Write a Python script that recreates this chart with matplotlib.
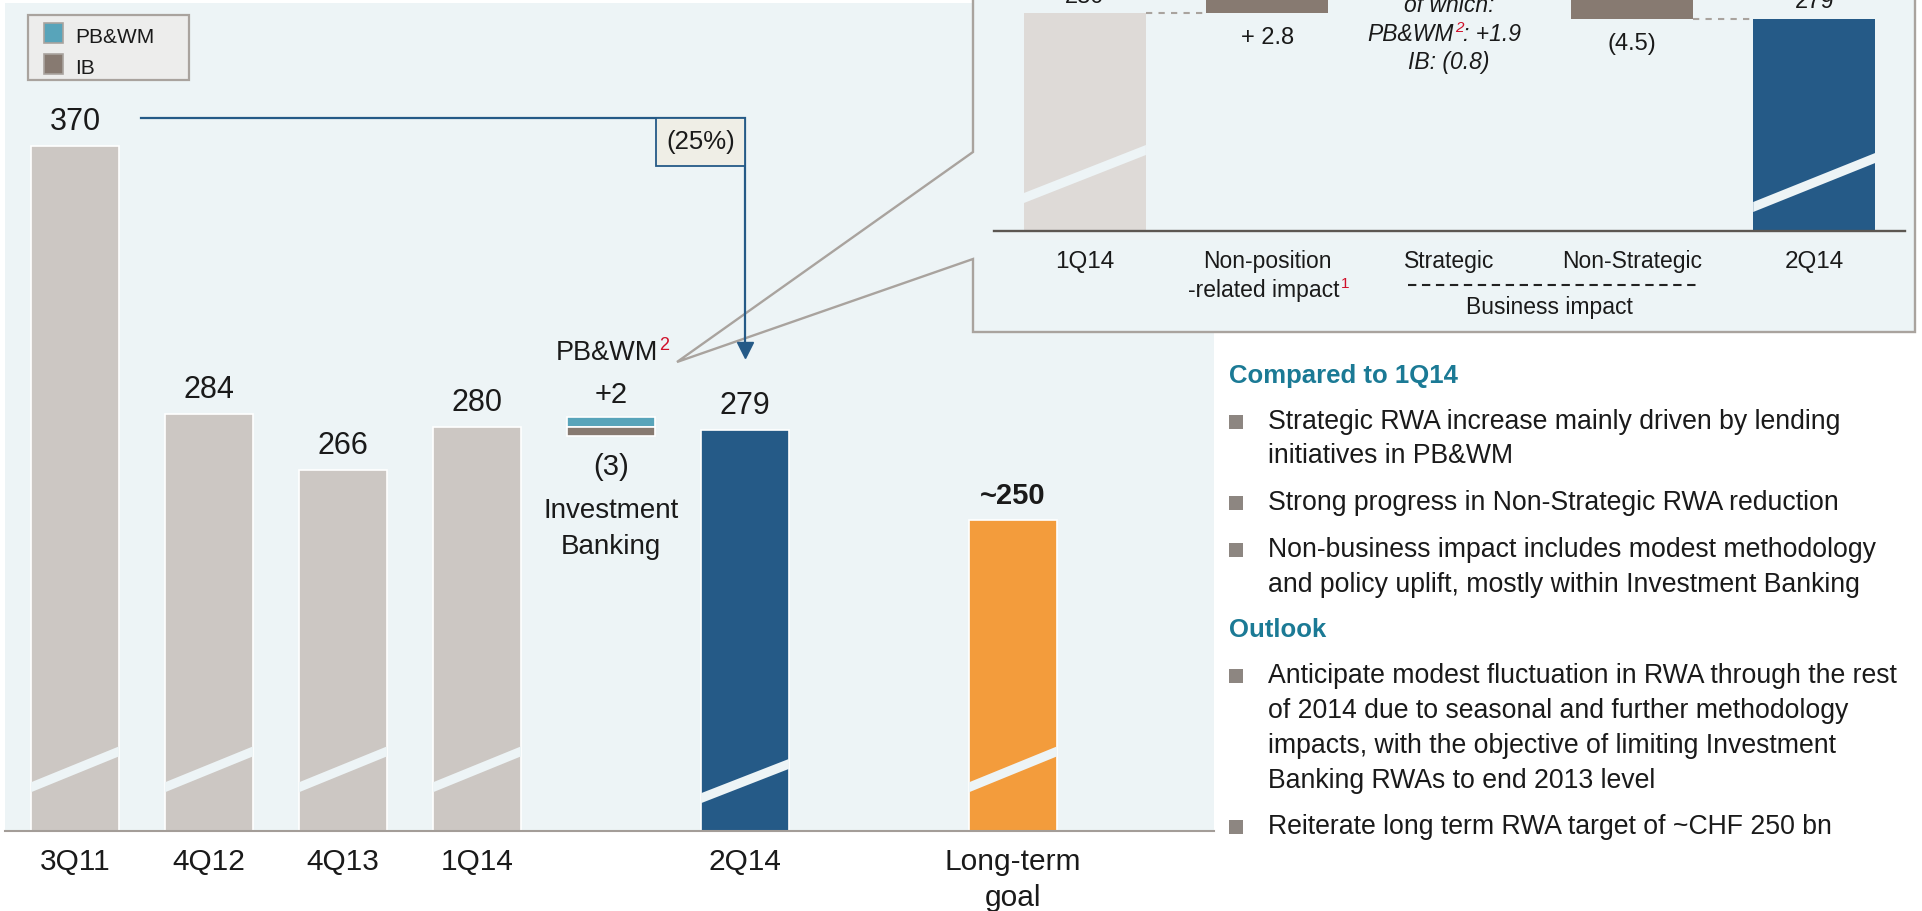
import numpy as np
import matplotlib.pyplot as plt
from matplotlib.patches import Rectangle, Polygon
from matplotlib.lines import Line2D
from matplotlib.transforms import Affine2D

plt.rcParams['font.family'] = ['Liberation Sans', 'DejaVu Sans']

W, H = 1922, 911

# RWA in CHF bn
hist_labels = ['3Q11', '4Q12', '4Q13', '1Q14']
hist_values = [370, 284, 266, 280]
pbwm_change = '+2'
ib_change = '(3)'
q214_label = '2Q14'
q214_value = 279
goal_label = ['Long-term', 'goal']
goal_value = 250
goal_text = '~250'
drop_text = '(25%)'

# inset bridge 1Q14 -> 2Q14
inset_labels = ['1Q14', 'Non-position', 'Strategic', 'Non-Strategic', '2Q14']
inset_start = 280
inset_steps = [2.8, 1.1, -4.5]
inset_step_text = ['+ 2.8', None, '(4.5)']
strategic_pbwm = '+1.9'
strategic_ib = '(0.8)'
inset_end_text = '279'

heading_1 = 'Compared to 1Q14'
bullets_1 = [['Strategic RWA increase mainly driven by lending', 'initiatives in PB&WM'],
             ['Strong progress in Non-Strategic RWA reduction'],
             ['Non-business impact includes modest methodology',
              'and policy uplift, mostly within Investment Banking']]
heading_2 = 'Outlook'
bullets_2 = [['Anticipate modest fluctuation in RWA through the rest',
              'of 2014 due to seasonal and further methodology',
              'impacts, with the objective of limiting Investment',
              'Banking RWAs to end 2013 level'],
             ['Reiterate long term RWA target of ~CHF 250 bn']]

BG = '#EDF4F6'
GREY = '#CCC7C3'
LIGHT = '#DEDAD7'
BROWN = '#877A71'
TEAL = '#58A4BA'
BLUE = '#255A87'
ORANGE = '#F39C3C'
BORDER = '#A9A39E'
HEAD = '#1B7A95'
TXT = '#1A1A1A'
RED = '#D0102A'

fig = plt.figure(figsize=(W / 100, H / 100), dpi=100)
# pixel coords, origin top-left
px = Affine2D().scale(1 / W, -1 / H).translate(0, 1) + fig.transFigure

# ---- main chart
ax = fig.add_axes([5 / W, 1 - 830.7 / H, 1209 / W, 827.7 / H], zorder=0)
ax.set_facecolor(BG)
ax.set_xlim(-0.522, 8.5)
ax.set_ylim(150.6, 415.7)
for s in ['top', 'left', 'right']:
    ax.spines[s].set_visible(False)
ax.spines['bottom'].set_color('#A39D98')
ax.spines['bottom'].set_linewidth(1.5)
ax.set_xticks([])
ax.set_yticks([])

bw = 0.657
x_hist = np.arange(len(hist_values))
x_delta, x_q2, x_goal = 4, 5, 7
seg = 3

ax.bar(x_hist, hist_values, width=bw, color=GREY, edgecolor='white', linewidth=1.2, zorder=2)
ax.bar(x_delta, seg, bottom=hist_values[-1], width=bw, color=TEAL, edgecolor='white', linewidth=1.2, zorder=2)
ax.bar(x_delta, seg, bottom=hist_values[-1] - seg, width=bw, color=BROWN, edgecolor='white', linewidth=1.2, zorder=2)
ax.bar(x_q2, q214_value, width=bw, color=BLUE, edgecolor='white', linewidth=1.2, zorder=2)
ax.bar(x_goal, goal_value, width=bw, color=ORANGE, edgecolor='white', linewidth=1.2, zorder=2)


def add_break(a, x, w, lo, hi, t):
    a.add_patch(Polygon([(x - w / 2, lo - t / 2), (x + w / 2, hi - t / 2),
                         (x + w / 2, hi + t / 2), (x - w / 2, lo + t / 2)],
                        closed=True, fc=BG, ec='none', zorder=2.2))


for x in list(x_hist) + [x_goal]:
    add_break(ax, x, bw, 164.5, 176, 3.2)
add_break(ax, x_q2, bw, 161, 172, 3.2)


def top_label(a, x, y, s, size=22, dy=16, weight='normal'):
    a.annotate(s, (x, y), xytext=(0, dy), textcoords='offset pixels', ha='center',
               va='baseline', fontsize=size, color=TXT, fontweight=weight)


for x, v in zip(x_hist, hist_values):
    top_label(ax, x, v, str(v))
top_label(ax, x_q2, q214_value, str(q214_value))
top_label(ax, x_goal, goal_value, goal_text, size=21, weight='bold')


def x_label(x, s, dy):
    ax.annotate(s, (x, 150.6), xytext=(0, dy), textcoords='offset pixels', ha='center',
                va='baseline', fontsize=21.5, color=TXT, annotation_clip=False)


for x, lbl in zip(list(x_hist) + [x_q2], hist_labels + [q214_label]):
    x_label(x, lbl, -39)
x_label(x_goal, goal_label[0], -39)
x_label(x_goal, goal_label[1], -75)

# delta labels
pb_top = hist_values[-1] + seg
ib_bot = hist_values[-1] - seg
ax.annotate(pbwm_change, (x_delta, pb_top), xytext=(0, 14), textcoords='offset pixels',
            ha='center', va='baseline', fontsize=21, color=TXT)
ax.annotate(ib_change, (x_delta, ib_bot), xytext=(0, -31), textcoords='offset pixels',
            ha='center', va='center', fontsize=21, color=TXT)
ax.annotate('Investment', (x_delta, ib_bot), xytext=(0, -82), textcoords='offset pixels',
            ha='center', va='baseline', fontsize=20, color=TXT)
ax.annotate('Banking', (x_delta, ib_bot), xytext=(0, -118), textcoords='offset pixels',
            ha='center', va='baseline', fontsize=20, color=TXT)
ax.annotate('PB&WM', (x_delta, pb_top), xytext=(47, 57), textcoords='offset pixels',
            ha='right', va='baseline', fontsize=19.5, color=TXT)
ax.annotate('2', (x_delta, pb_top), xytext=(48, 67), textcoords='offset pixels',
            ha='left', va='baseline', fontsize=13, color=RED)

# connector 3Q11 -> 2Q14
yc = hist_values[0] + 9
tip = q214_value + 23
ax.plot([0.49, x_q2, x_q2], [yc, yc, tip + 4], color=BLUE, lw=1.6, zorder=3,
        solid_joinstyle='miter')
ax.plot(x_q2, tip + 2.5, marker='v', ms=11.5, color=BLUE, zorder=3, clip_on=False)
ax.add_patch(Rectangle((4.336, yc - 15.4), x_q2 - 4.336, 15.4, fc='#EFEEE6', ec=BLUE,
                       lw=1.3, zorder=3))
ax.text((4.336 + x_q2) / 2, yc - 7.7, drop_text, ha='center', va='center', fontsize=18.5,
        color=TXT, zorder=4)

# callout bubble
bubble = [(973, -20), (973, 152), (677, 362), (973, 259), (973, 332), (1915, 332), (1915, -20)]
ax.add_patch(Polygon(bubble, closed=True, transform=px, fc=BG, ec=BORDER, lw=1.7,
                     zorder=0.5, clip_on=False))

# legend
ax.add_patch(Rectangle((28, 80), 161, -65, transform=px, fc='#EDEDEC', ec=BORDER, lw=1.6,
                       clip_on=False, zorder=5))
for (yt, yb), col, name in zip([(23, 43), (54, 74)], [TEAL, BROWN], ['PB&WM', 'IB']):
    ax.add_patch(Rectangle((44, yb), 19, yt - yb, transform=px, fc=col, ec=BORDER, lw=1.2,
                           clip_on=False, zorder=6))
    ax.text(75, yb, name, transform=px, ha='left', va='baseline', fontsize=15, color=TXT, zorder=6)

# ---- inset
axi = fig.add_axes([973 / W, 1 - 231 / H, 942 / W, 271 / H], zorder=1)
axi.set_facecolor('none')
axi.set_xlim(-0.614, 4.553)
axi.set_ylim(258.2, 285.3)
axi.axis('off')

iw = 0.669
levels = inset_start + np.cumsum([0] + inset_steps)
axi.bar(0, inset_start, width=iw, color=LIGHT, zorder=2)
for i, st in enumerate(inset_steps):
    axi.bar(i + 1, st, bottom=levels[i], width=iw, color=BROWN, zorder=2)
axi.bar(4, levels[-1], width=iw, color=BLUE, zorder=2)
for i in range(len(levels)):
    axi.plot([i + iw / 2, i + 1 - iw / 2], [levels[i]] * 2, color=BORDER, lw=1.5,
             ls=(0, (3, 3)), zorder=1)
add_break(axi, 0, iw, 261.5, 266.3, 1.0)
add_break(axi, 4, iw, 260.6, 265.5, 1.0)
axi.plot([-0.5, 4.5], [258.2, 258.2], color='#5C5752', lw=1.7, clip_on=False)

axi.annotate(str(inset_start), (0, inset_start), xytext=(0, 10), textcoords='offset pixels',
             ha='center', va='baseline', fontsize=17, color=TXT, annotation_clip=False)
axi.annotate(inset_end_text, (4, levels[-1]), xytext=(0, 11), textcoords='offset pixels',
             ha='center', va='baseline', fontsize=17, color=TXT, annotation_clip=False)
for i, t in enumerate(inset_step_text):
    if t is None:
        continue
    lo = min(levels[i], levels[i + 1])
    axi.annotate(t, (i + 1, lo), xytext=(0, -25), textcoords='offset pixels', ha='center',
                 va='center', fontsize=17, color=TXT, annotation_clip=False)

for i, lbl in enumerate(inset_labels):
    size = 17.5 if lbl[0].isdigit() else 16.5
    axi.annotate(lbl, (i, 258.2), xytext=(0, -37), textcoords='offset pixels', ha='center',
                 va='baseline', fontsize=size, color=TXT, annotation_clip=False)

fig.text(1340, 297, '-related impact', transform=px, ha='right', va='baseline', fontsize=16.5, color=TXT)
fig.text(1341, 288, '1', transform=px, ha='left', va='baseline', fontsize=11, color=RED)

fig.text(1449, 12, 'of which:', transform=px, ha='center', va='baseline', fontsize=16.5,
         style='italic', color=TXT)
fig.text(1454, 41, 'PB&WM', transform=px, ha='right', va='baseline', fontsize=16.5,
         style='italic', color=TXT)
fig.text(1455, 32, '2', transform=px, ha='left', va='baseline', fontsize=11, style='italic', color=RED)
fig.text(1463, 41, ': ' + strategic_pbwm, transform=px, ha='left', va='baseline', fontsize=16.5,
         style='italic', color=TXT)
fig.text(1449, 69, 'IB: ' + strategic_ib, transform=px, ha='center', va='baseline', fontsize=16.5,
         style='italic', color=TXT)

fig.add_artist(Line2D([1408, 1696], [285, 285], transform=px, color='#222222', lw=1.5,
                      ls=(0, (4, 2.7))))
fig.text(1549, 314, 'Business impact', transform=px, ha='center', va='baseline', fontsize=16.5, color=TXT)

# ---- commentary
x_txt, x_sq = 1268, 1229
fig.text(x_sq, 383, heading_1, transform=px, fontsize=18.5, fontweight='bold', color=HEAD,
         va='baseline')
fig.text(x_sq, 637, heading_2, transform=px, fontsize=18.5, fontweight='bold', color=HEAD,
         va='baseline')


def bullets(blocks, baselines):
    k = 0
    for block in blocks:
        fig.add_artist(Rectangle((x_sq, baselines[k]), 14, -14, transform=px, fc='#8D8681', ec='none'))
        for line in block:
            fig.text(x_txt, baselines[k], line, transform=px, fontsize=19.2, color=TXT, va='baseline')
            k += 1


bullets(bullets_1, [429, 463, 510, 557, 592])
bullets(bullets_2, [683, 718, 753, 788, 834])

fig.savefig('out.png', dpi=100)
